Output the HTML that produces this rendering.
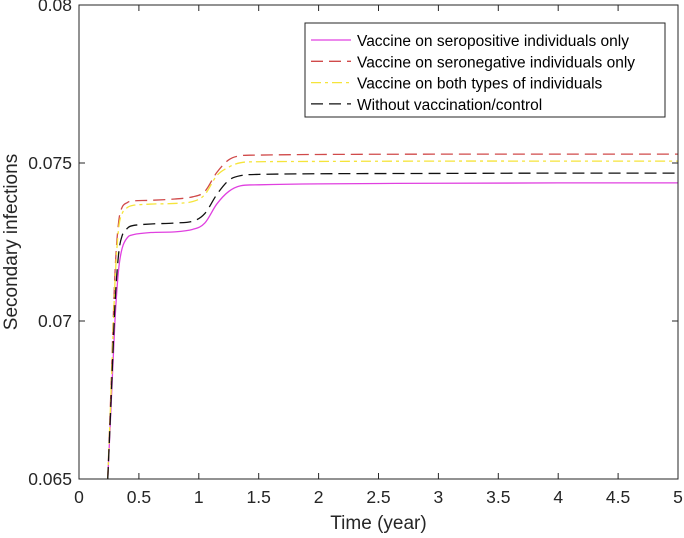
<!DOCTYPE html>
<html><head><meta charset="utf-8"><style>
body{margin:0;background:#fff;}
svg{display:block;font-family:"Liberation Sans",Arial,sans-serif;}
</style></head><body>
<svg id="chart" width="684" height="538">
<g id="grid"></g>
<g id="series"></g>
<g id="axes"></g>
<g id="legend"></g>
</svg>
<script>
const times=[0.24,0.27,0.30,0.33,0.36,0.40,0.45,0.6,0.8,0.95,1.05,1.15,1.25,1.35,1.5,2,3,4,5];
const seropositive=[0.065,0.0675,0.0700,0.0716,0.0723,0.07262,0.07273,0.0728,0.07282,0.0729,0.0731,0.0737,0.0741,0.07428,0.07431,0.07434,0.07436,0.07437,0.07437];
const seronegative=[0.065,0.0682,0.0715,0.0731,0.0736,0.07374,0.0738,0.07382,0.07386,0.07393,0.0741,0.0747,0.0751,0.07523,0.07525,0.07527,0.07528,0.07528,0.07528];
const bothTypes=[0.065,0.068,0.0712,0.0729,0.0734,0.07358,0.07366,0.0737,0.07372,0.07378,0.0740,0.0746,0.07487,0.07501,0.07504,0.07505,0.07506,0.07506,0.07506];
const control=[0.065,0.0677,0.0705,0.0721,0.0727,0.07292,0.07302,0.07307,0.0731,0.07316,0.0734,0.0740,0.07445,0.0746,0.07464,0.07466,0.07467,0.07468,0.07468];
const xTicks=[0,0.5,1,1.5,2,2.5,3,3.5,4,4.5,5];
const xTickLabels=["0","0.5","1","1.5","2","2.5","3","3.5","4","4.5","5"];
const yTicks=[0.065,0.07,0.075,0.08];
const yTickLabels=["0.065","0.07","0.075","0.08"];
const legendLabels=["Vaccine on seropositive individuals only","Vaccine on seronegative individuals only","Vaccine on both types of individuals","Without vaccination/control"];

const L=79,R=678,T=5,B=479;
const NS="http://www.w3.org/2000/svg";
const xs=t=>L+(t-0)/(5-0)*(R-L);
const ys=v=>B-(v-0.065)/(0.08-0.065)*(B-T);
function mk(tag,attrs,parent){const e=document.createElementNS(NS,tag);for(const k in attrs)e.setAttribute(k,attrs[k]);parent.appendChild(e);return e;}
const axes=document.getElementById('axes'),ser=document.getElementById('series'),leg=document.getElementById('legend');

const frame=mk('rect',{x:L,y:T,width:R-L,height:B-T,fill:'none',stroke:'#262626','stroke-width':1},axes);


xTicks.forEach((t,i)=>{
  const x=xs(t);
  const tk=mk('path',{d:`M${x},${B}v-6M${x},${T}v6`,stroke:'#262626','stroke-width':1},axes);
  
  
  const lb=mk('text',{x:x,y:B+24,'text-anchor':'middle','font-size':17.5,fill:'#262626'},axes);
  lb.textContent=xTickLabels[i];
  
  
});
yTicks.forEach((v,i)=>{
  const y=ys(v);
  const tk=mk('path',{d:`M${L},${y}h6M${R},${y}h-6`,stroke:'#262626','stroke-width':1},axes);
  
  
  const lb=mk('text',{x:L-7,y:y+6,'text-anchor':'end','font-size':17.5,fill:'#262626'},axes);
  lb.textContent=yTickLabels[i];
  
  
});
const xt=mk('text',{x:(L+R)/2,y:529,'text-anchor':'middle','font-size':19,fill:'#262626'},axes);
xt.textContent='Time (year)';


const yt=mk('text',{x:0,y:0,transform:`translate(17,${(T+B)/2}) rotate(-90)`,'text-anchor':'middle','font-size':19,fill:'#262626'},axes);
yt.textContent='Secondary infections';



function pathFor(vals){
  const p=times.map((t,i)=>[xs(t),ys(vals[i])]);
  let d=`M${p[0][0]},${p[0][1]}`;
  for(let i=0;i<p.length-1;i++){
    const p0=p[Math.max(0,i-1)],p1=p[i],p2=p[i+1],p3=p[Math.min(p.length-1,i+2)];
    const c1=[p1[0]+(p2[0]-p0[0])/6,p1[1]+(p2[1]-p0[1])/6];
    const c2=[p2[0]-(p3[0]-p1[0])/6,p2[1]-(p3[1]-p1[1])/6];
    d+=`C${c1[0]},${c1[1]} ${c2[0]},${c2[1]} ${p2[0]},${p2[1]}`;
  }
  return d;
}
const styles=[
 {vals:seropositive,stroke:'#e040e0',dash:'',name:'seropositive-line'},
 {vals:seronegative,stroke:'#d04a4a',dash:'12,6',name:'seronegative-line'},
 {vals:bothTypes,stroke:'#f5e43a',dash:'10,4,3,4',name:'both-types-line'},
 {vals:control,stroke:'#111',dash:'12,6',name:'control-line'}
];
styles.forEach(s=>{
  const pa=mk('path',{d:pathFor(s.vals),fill:'none',stroke:s.stroke,'stroke-width':1.3,'stroke-dasharray':s.dash},ser);
  
  
});

const lbox=mk('rect',{x:305,y:23,width:360,height:94,fill:'#fff',stroke:'#262626','stroke-width':1},leg);


styles.forEach((s,i)=>{
  const y=40+i*21.3;
  const g=mk('g',{},leg);
  
  
  mk('path',{d:`M311,${y}h40`,stroke:s.stroke,'stroke-width':1.3,'stroke-dasharray':s.dash},g);
  const tx=mk('text',{x:357,y:y+6,'font-size':15.5,fill:'#000'},g);
  tx.textContent=legendLabels[i];
});
</script>
</body></html>
